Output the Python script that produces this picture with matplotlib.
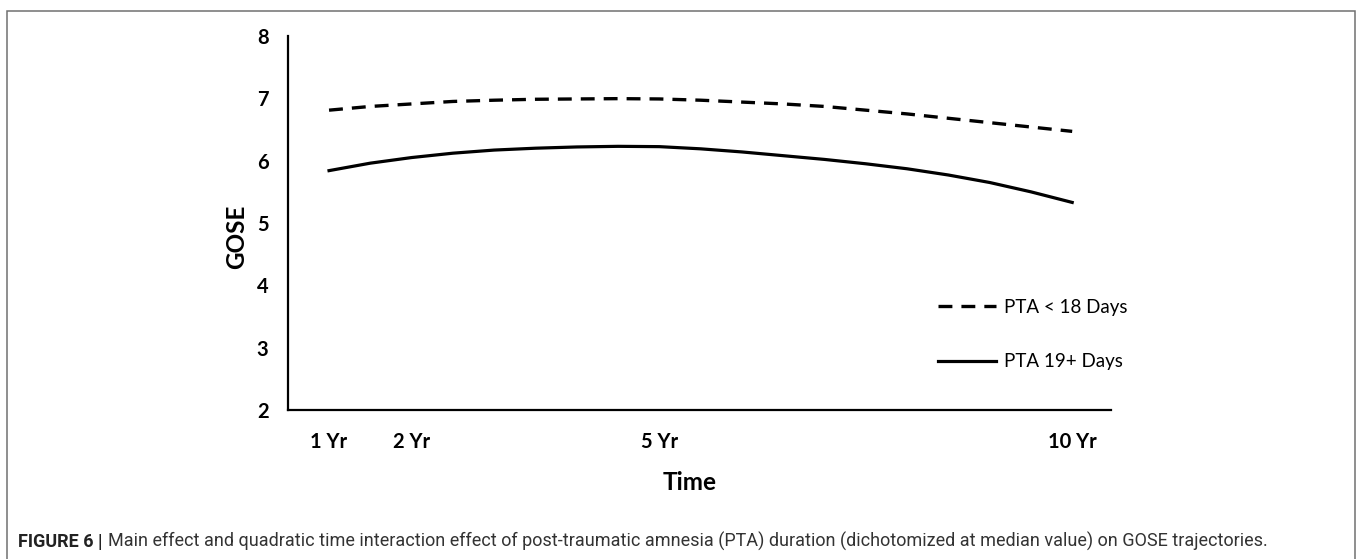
import matplotlib
matplotlib.use("Agg")
import matplotlib.pyplot as plt
from matplotlib.patches import Rectangle

# ---- data ----
years = [1, 1.5, 2, 2.5, 3, 3.5, 4, 4.5, 5, 5.5, 6, 6.5, 7, 7.5, 8, 8.5, 9, 9.5, 10]
pta_short = [6.81, 6.87, 6.91, 6.95, 6.97, 6.985, 6.99, 6.995, 6.99, 6.97, 6.94,
             6.91, 6.87, 6.81, 6.75, 6.68, 6.61, 6.54, 6.47]   # PTA < 18 Days
pta_long = [5.84, 5.96, 6.05, 6.12, 6.17, 6.20, 6.22, 6.23, 6.225, 6.19, 6.14,
            6.08, 6.02, 5.95, 5.87, 5.77, 5.65, 5.50, 5.33]   # PTA 19+ Days
x_ticks = [1, 2, 5, 10]
x_tick_labels = ["1 Yr", "2 Yr", "5 Yr", "10 Yr"]
y_ticks = [2, 3, 4, 5, 6, 7, 8]
series_labels = ["PTA < 18 Days", "PTA 19+ Days"]
caption_bold = "FIGURE 6 |"
caption_text = ("Main effect and quadratic time interaction effect of post-traumatic amnesia (PTA) "
                "duration (dichotomized at median value) on GOSE trajectories.")

plt.rcParams["lines.scale_dashes"] = False
W, H = 1357, 559
fig = plt.figure(figsize=(W / 100, H / 100), dpi=100)
fig.patch.set_facecolor("white")

# outer frame (open at the bottom edge of the image)
frame = Rectangle((7 / W, -0.05), (1355 - 7) / W, 1.05 - 10.5 / H, transform=fig.transFigure,
                  fill=False, edgecolor="#707070", linewidth=1.1, clip_on=False)
fig.add_artist(frame)

ax = fig.add_axes([288 / W, 1 - 410 / H, (1111 - 288) / W, (410 - 36) / H])
ax.set_xlim(0.503, 10.47)
ax.set_ylim(2, 8)

l1, = ax.plot(years, pta_short, color="black", lw=2.4, dashes=(10, 6.5),
              solid_capstyle="butt", dash_capstyle="butt", label=series_labels[0])
l2, = ax.plot(years, pta_long, color="black", lw=2.3, label=series_labels[1])

for s in ["top", "right"]:
    ax.spines[s].set_visible(False)
for s in ["left", "bottom"]:
    ax.spines[s].set_linewidth(1.6)
    ax.spines[s].set_color("black")

ax.set_xticks(x_ticks)
ax.set_xticklabels(x_tick_labels)
ax.set_yticks(y_ticks)
ax.tick_params(axis="both", length=0)
ax.tick_params(axis="x", pad=16)
ax.tick_params(axis="y", pad=14)
for lab in ax.get_xticklabels() + ax.get_yticklabels():
    lab.set_fontfamily("Lato")
    lab.set_fontweight("bold")
    lab.set_fontsize(14.5)

ax.set_ylabel("GOSE", fontfamily="Lato", fontweight="bold", fontsize=17.5)
ax.yaxis.set_label_coords((237 - 288) / 823, (410 - 237) / 374)
ax.set_xlabel("Time", fontfamily="Lato", fontweight="bold", fontsize=17.5)
ax.xaxis.set_label_coords((690 - 288) / 823, (410 - 483) / 374)
ax.xaxis.label.set_va("center")
ax.yaxis.label.set_va("center")

leg = ax.legend(handles=[l1, l2], loc="center left",
                bbox_to_anchor=((938 - 288) / 823, (410 - 334.5) / 374),
                frameon=False, borderpad=0, borderaxespad=0,
                handlelength=3.1, handletextpad=0.42, labelspacing=2.0,
                prop={"family": "Lato", "size": 13.5})

# caption
t1 = fig.text(18 / W, 1 - 547 / H, caption_bold, fontfamily="Roboto", fontweight="bold",
              fontsize=13, color="#222222", va="baseline", ha="left")
fig.canvas.draw()
bb = t1.get_window_extent()
t2 = fig.text((bb.x1 + 6) / W, 1 - 547 / H, caption_text, fontfamily="Roboto",
              fontsize=13, color="#333333", va="baseline", ha="left")

fig.savefig("out.png", dpi=100, facecolor="white")
